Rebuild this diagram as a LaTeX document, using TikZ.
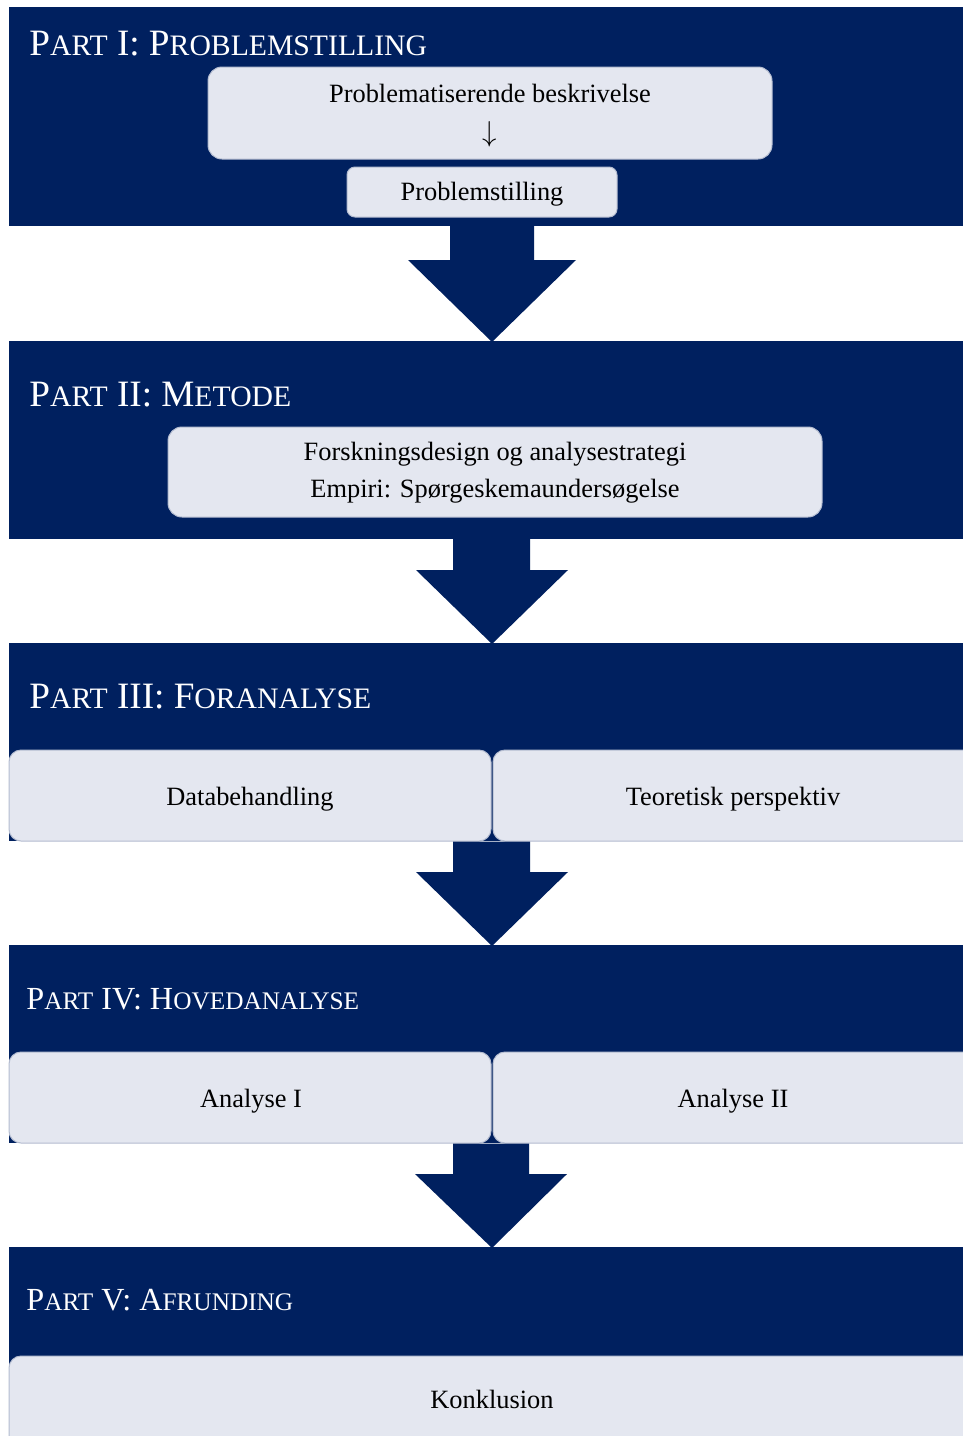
\documentclass[tikz,border=0pt]{standalone}
\usepackage{fontspec}
\setmainfont{Liberation Serif}
\definecolor{navy}{HTML}{00205F}
\definecolor{pale}{HTML}{E4E7F0}
\definecolor{paleedge}{HTML}{B4BCD0}
\newcommand\TLg[1]{{\fontsize{18.6pt}{20pt}\selectfont #1}}
\newcommand\TSm[1]{{\fontsize{14.85pt}{16pt}\selectfont #1}}
\newcommand\TLgb[1]{{\fontsize{16.1pt}{18pt}\selectfont #1}}
\newcommand\TSmb[1]{{\fontsize{12.65pt}{14pt}\selectfont #1}}
\tikzset{
  panel/.style={fill=navy},
  softbox/.style={fill=pale, draw=paleedge, line width=0.5pt},
  bigarrow/.style={fill=navy},
  body/.style={font=\fontsize{13.2pt}{16pt}\selectfont, text=black, inner sep=0pt, anchor=base},
  ptitle/.style={text=white, inner sep=0pt, anchor=base west},
}
\begin{document}
\begin{tikzpicture}[x=0.5pt,y=-0.5pt]
\useasboundingbox (0,0) rectangle (963,1436);
\fill[white] (0,0) rectangle (963,1436);

% ---- Panel I
\fill[panel] (9,7) rectangle (980,226);
\node[ptitle] (t1) at (29,55) {\TLg{P}\TSm{ART}\TLg{ I: P}\TSm{ROBLEMSTILLING}};
\draw[softbox, rounded corners=7pt] (208,67) rectangle (772,159);
\node[body] (b1) at (490,102) {Problematiserende beskrivelse};
\node[body, font=\fontsize{15pt}{16pt}\selectfont] (b1a) at (490,141) {$\downarrow$};
\draw[softbox, rounded corners=4pt] (347,167) rectangle (617,217);
\node[body] (b2) at (482,200) {Problemstilling};

% arrow 1
\fill[bigarrow] (450,225) -- (534,225) -- (534,260) -- (576,260) -- (492,342) -- (408,260) -- (450,260) -- cycle;

% ---- Panel II
\fill[panel] (9,341) rectangle (980,539);
\node[ptitle] (t2) at (29,406) {\TLg{P}\TSm{ART}\TLg{ II: M}\TSm{ETODE}};
\draw[softbox, rounded corners=7pt] (168,427) rectangle (822,517);
\node[body] (b3) at (495,460) {Forskningsdesign og analysestrategi};
\node[body] (b4) at (495,497) {Empiri: Spørgeskemaundersøgelse};

% arrow 2
\fill[bigarrow] (453,538) -- (530,538) -- (530,570) -- (568,570) -- (492,644) -- (416,570) -- (453,570) -- cycle;

% ---- Panel III
\fill[panel] (9,643) rectangle (980,841);
\node[ptitle] (t3) at (29,708) {\TLg{P}\TSm{ART}\TLg{ III: F}\TSm{ORANALYSE}};
\draw[softbox, rounded corners=6pt] (9,750) rectangle (491,841);
\draw[softbox, rounded corners=6pt] (493,750) rectangle (990,841);
\node[body] (b5) at (250,805) {Databehandling};
\node[body] (b6) at (733,805) {Teoretisk perspektiv};

% arrow 3
\fill[bigarrow] (453,841.5) -- (530,841.5) -- (530,872) -- (568,872) -- (492,946) -- (416,872) -- (453,872) -- cycle;

% ---- Panel IV
\fill[panel] (9,945) rectangle (980,1143);
\node[ptitle] (t4) at (26,1009) {\TLgb{P}\TSmb{ART}\TLgb{ IV: H}\TSmb{OVEDANALYSE}};
\draw[softbox, rounded corners=6pt] (9,1052) rectangle (491,1143);
\draw[softbox, rounded corners=6pt] (493,1052) rectangle (990,1143);
\node[body] (b7) at (251,1107) {Analyse I};
\node[body] (b8) at (733,1107) {Analyse II};

% arrow 4
\fill[bigarrow] (453,1143.5) -- (529,1143.5) -- (529,1174) -- (567,1174) -- (492,1248) -- (415,1174) -- (453,1174) -- cycle;

% ---- Panel V
\fill[panel] (9,1247) rectangle (980,1460);
\node[ptitle] (t5) at (26,1310) {\TLgb{P}\TSmb{ART}\TLgb{ V: A}\TSmb{FRUNDING}};
\draw[softbox, rounded corners=6pt] (9,1356) rectangle (990,1470);
\node[body] (b9) at (492,1408) {Konklusion};
\end{tikzpicture}
\end{document}
